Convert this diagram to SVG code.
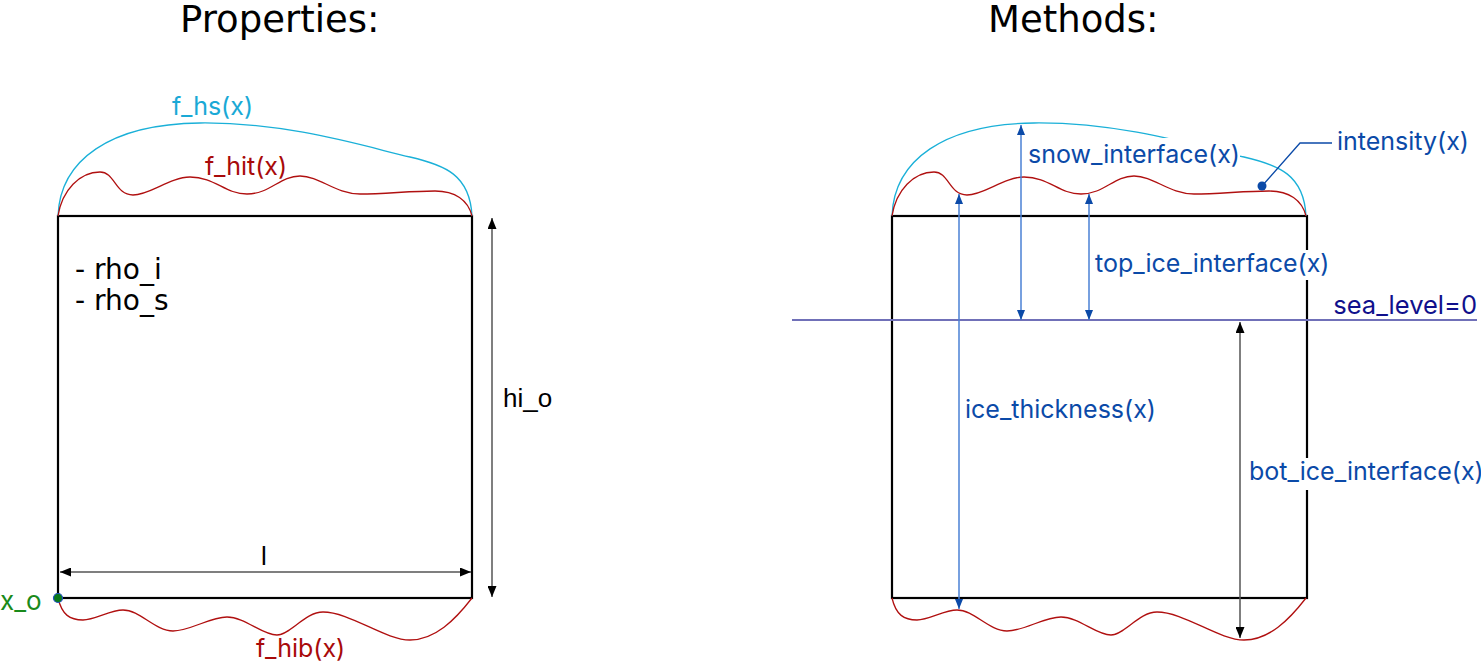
<svg xmlns="http://www.w3.org/2000/svg" xmlns:xlink="http://www.w3.org/1999/xlink" width="1481" height="662" viewBox="0 0 1481 662">
<style>
.title{font-family:"DejaVu Sans",sans-serif;font-size:37px;fill:#000}
.lbl{font-family:Inter,"Liberation Sans",sans-serif;font-size:25px}
.blue{fill:#0b4aa8}
.red{fill:#a80a0a}
.cyan{fill:#1aa9d6}
.box{fill:none;stroke:#000;stroke-width:2.2}
.snow{fill:none;stroke:#1ab0d8;stroke-width:1.3}
.ice{fill:none;stroke:#b01010;stroke-width:1.3}
.dim{stroke:#555;stroke-width:1.5;fill:none}
.bdim{stroke:#4a80d4;stroke-width:1.5;fill:none}
.mask{fill:#fff}
.plain{font-family:"DejaVu Sans",sans-serif;font-size:28px;fill:#000}
</style>
<defs>
<marker id="hk" viewBox="0 0 11 9" refX="11" refY="4.5" markerWidth="11" markerHeight="9" orient="auto-start-reverse" markerUnits="userSpaceOnUse"><path d="M0,0 L11,4.5 L0,9 Z" fill="#000"/></marker>
<marker id="hb" viewBox="0 0 10 8" refX="10" refY="4" markerWidth="10" markerHeight="8" orient="auto-start-reverse" markerUnits="userSpaceOnUse"><path d="M0,0 L10,4 L0,8 Z" fill="#0b4aa8"/></marker>
<path id="snowC" d="M58,216 C60,160 110,124 200,123 C290,122 370,148 410,157 C445,165 470,175 472,216"/>
<path id="topC" d="M58,216 C62,190 80,172 100,172 C115,172 115,195 133,195 C150,195 170,177 190,177 C215,177 225,194 247,194 C270,194 280,176 300,176 C320,176 335,194 360,194 C385,194 410,191 435,191 C455,191 468,200 472,216"/>
<path id="botC" d="M58,598 C62,615 70,620 83,620 C95,620 110,610 123,610 C140,610 155,631 173,631 C190,631 210,617 227,617 C245,617 262,635 277,635 C290,635 305,612 323,612 C350,612 385,640 410,640 C435,640 455,620 472,598"/>
</defs>

<text class="title" x="180" y="32">Properties:</text>
<text class="title" x="988" y="32">Methods:</text>

<g id="properties">
  <rect class="box" x="58" y="216" width="414" height="382"/>
  <use xlink:href="#snowC" class="snow"/>
  <use xlink:href="#topC" class="ice"/>
  <use xlink:href="#botC" class="ice"/>
  <text class="lbl cyan" x="172" y="115">f_hs(x)</text>
  <text class="lbl red" x="205" y="175">f_hit(x)</text>
  <text class="lbl red" x="256" y="657">f_hib(x)</text>
  <text class="plain" x="75" y="279">- rho_i</text>
  <text class="plain" x="75" y="310">- rho_s</text>
  <text x="264" y="565" text-anchor="middle" style="font-family:'Liberation Sans',sans-serif;font-size:26px">l</text>
  <text x="503" y="407" style="font-family:'Liberation Sans',sans-serif;font-size:26px">hi_o</text>
  <circle cx="58" cy="598" r="4.5" fill="#0a7a1a" stroke="#2050c0" stroke-width="1.2"/>
  <text x="0" y="610" style="font-family:Inter,'Liberation Sans',sans-serif;font-size:26px;fill:#1a8a1a">x_o</text>
</g>

<g id="methods">
  <rect class="box" x="892" y="216" width="415" height="382"/>
  <g transform="translate(834,0)">
    <use xlink:href="#snowC" class="snow"/>
    <use xlink:href="#topC" class="ice"/>
    <use xlink:href="#botC" class="ice"/>
  </g>
  <line x1="792" y1="320" x2="1477" y2="320" stroke="#7070b8" stroke-width="2"/>
  <text x="1477" y="314" text-anchor="end" style="font-family:Inter,'Liberation Sans',sans-serif;font-size:25.5px;fill:#10108c">sea_level=0</text>
</g>

<g id="connectors">
  <line class="dim" x1="60" y1="572" x2="471" y2="572" marker-start="url(#hk)" marker-end="url(#hk)"/>
  <line class="dim" x1="492" y1="218" x2="492" y2="597" marker-start="url(#hk)" marker-end="url(#hk)"/>
  <line class="bdim" x1="1021" y1="320" x2="1021" y2="125" marker-start="url(#hb)" marker-end="url(#hb)"/>
  <line class="bdim" x1="1089" y1="320" x2="1089" y2="194" marker-start="url(#hb)" marker-end="url(#hb)"/>
  <line class="bdim" x1="959" y1="194" x2="959" y2="609" marker-start="url(#hb)" marker-end="url(#hb)"/>
  <line class="dim" x1="1240" y1="322" x2="1240" y2="638" marker-start="url(#hk)" marker-end="url(#hk)"/>
  <polyline points="1332,143 1300,143 1262,186" fill="none" stroke="#0b4aa8" stroke-width="1.3"/>
  <circle cx="1262" cy="186" r="4.5" fill="#0b4aa8"/>
</g>

<g id="method-labels">
  <rect class="mask" x="1026" y="138" width="214" height="32"/>
  <text class="lbl blue" x="1028" y="163">snow_interface(x)</text>
  <rect class="mask" x="1093" y="250" width="234" height="30"/>
  <text class="lbl blue" x="1095" y="272">top_ice_interface(x)</text>
  <text class="lbl blue" x="965" y="418">ice_thickness(x)</text>
  <rect class="mask" x="1246" y="458" width="235" height="32"/>
  <text class="lbl blue" x="1249" y="480">bot_ice_interface(x)</text>
  <text class="lbl blue" x="1337" y="150">intensity(x)</text>
</g>
</svg>
